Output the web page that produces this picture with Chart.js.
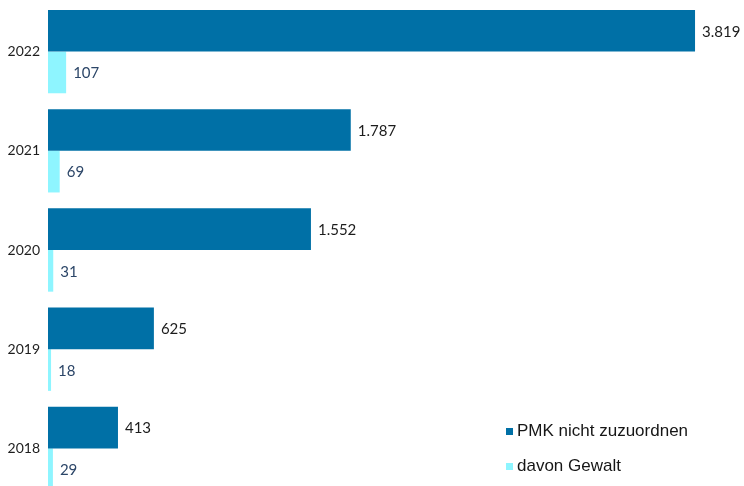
<!DOCTYPE html>
<html>
<head>
<meta charset="utf-8">
<script src="https://cdn.jsdelivr.net/npm/chart.js@4/dist/chart.umd.min.js"></script>
<style>
  html, body { margin: 0; padding: 0; background: #fff; overflow: hidden; }
  #wrap { width: 744px; height: 486px; overflow: hidden; }
</style>
</head>
<body>
<div id="wrap"><canvas id="chart" width="744" height="500"></canvas></div>
<script>
// Werte aus der Grafik
var years = ['2022', '2021', '2020', '2019', '2018'];
var pmkValues = [3819, 1787, 1552, 625, 413];
var gewaltValues = [107, 69, 31, 18, 29];
var seriesNames = ['PMK nicht zuzuordnen', 'davon Gewalt'];
var colors = ['#0070a6', '#8ef5ff'];
var labelColors = ['#1c1c1c', '#2c4668'];

function fmt(v) {
    // deutsche Tausenderpunkte
    return String(v).replace(/\B(?=(\d{3})+(?!\d))/g, '.');
}

// Werte neben die Balken schreiben
var valueLabels = {
    id: 'valueLabels',
    afterDatasetsDraw: function(chart) {
        var ctx = chart.ctx;
        ctx.save();
        ctx.font = '15px Lato';
        ctx.textBaseline = 'middle';
        ctx.textAlign = 'left';
        chart.data.datasets.forEach(function(ds, i) {
            var meta = chart.getDatasetMeta(i);
            ctx.fillStyle = labelColors[i];
            meta.data.forEach(function(bar, j) {
                ctx.fillText(fmt(ds.data[j]), bar.x + 7, bar.y + 1);
            });
        });
        ctx.restore();
    }
};

// Legende unten rechts, untereinander
var cornerLegend = {
    id: 'cornerLegend',
    afterDraw: function(chart) {
        var ctx = chart.ctx;
        ctx.save();
        ctx.font = '17px "Liberation Sans"';
        ctx.textBaseline = 'middle';
        chart.data.datasets.forEach(function(ds, i) {
            var y = 431 + i * 35;
            ctx.fillStyle = ds.backgroundColor;
            ctx.fillRect(506, y - 3, 7, 7);
            ctx.fillStyle = '#161616';
            ctx.fillText(ds.label, 517, y);
        });
        ctx.restore();
    }
};

new Chart(document.getElementById('chart'), {
    type: 'bar',
    data: {
        labels: years,
        datasets: [{
            label: seriesNames[0],
            data: pmkValues,
            backgroundColor: colors[0],
            categoryPercentage: 0.84,
            barPercentage: 1
        }, {
            label: seriesNames[1],
            data: gewaltValues,
            backgroundColor: colors[1],
            categoryPercentage: 0.84,
            barPercentage: 1
        }]
    },
    options: {
        indexAxis: 'y',
        responsive: false,
        animation: false,
        layout: { padding: { top: 2, bottom: 2, left: 0, right: 0 } },
        plugins: {
            legend: { display: false },
            tooltip: { enabled: false }
        },
        scales: {
            x: {
                display: false,
                min: 0,
                max: 4108
            },
            y: {
                grid: { display: false, drawTicks: false },
                border: { display: false },
                ticks: {
                    padding: 8,
                    color: '#1e1e1e',
                    font: { family: 'Lato', size: 14 }
                },
                afterFit: function(scale) {
                    scale.width = 48;
                    scale.paddingTop = 0;
                    scale.paddingBottom = 0;
                }
            }
        }
    },
    plugins: [valueLabels, cornerLegend]
});
</script>
</body>
</html>
